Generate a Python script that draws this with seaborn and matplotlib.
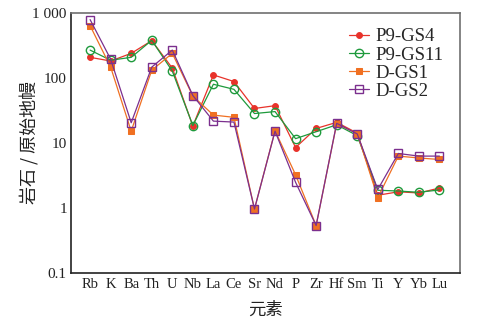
import matplotlib
matplotlib.use("Agg")
import matplotlib.pyplot as plt
import seaborn as sns
import pandas as pd
import numpy as np

elements = ["Rb", "K", "Ba", "Th", "U", "Nb", "La", "Ce", "Sr", "Nd", "P", "Zr", "Hf", "Sm", "Ti", "Y", "Yb", "Lu"]
p9_gs4 = [205, 180, 236, 370, 140, 18.0, 110, 87, 33.5, 37, 8.4, 16.5, 20.5, 14.0, 1.55, 1.75, 1.68, 2.0]
p9_gs11 = [265, 185, 205, 375, 126, 18.3, 79, 66, 28, 30, 11.5, 14.7, 18.8, 12.8, 1.85, 1.80, 1.72, 1.87]
d_gs1 = [630, 145, 15, 130, 236, 52, 26.5, 24.5, 0.95, 15.2, 3.2, 0.53, 19.5, 13.8, 1.42, 6.2, 5.8, 5.5]
d_gs2 = [780, 192, 20.2, 145, 265, 53, 21.4, 20.7, 0.95, 15.0, 2.45, 0.53, 19.8, 13.6, 1.9, 6.8, 6.2, 6.2]
series_names = ["P9-GS4", "P9-GS11", "D-GS1", "D-GS2"]
ytick_vals = [0.1, 1, 10, 100, 1000]
ytick_labels = ["0.1", "1", "10", "100", "1 000"]

sns.set_style("white")
plt.rcParams["font.family"] = ["Liberation Serif", "Noto Sans CJK SC", "DejaVu Sans"]

fig = plt.figure(figsize=(4.93, 3.23), dpi=100)
ax = fig.add_axes([0.144, 0.156, 0.789, 0.805])

styles = [
    dict(color="#e8322a", marker="o", markersize=4.2, markerfacecolor="#e8322a", markeredgecolor="#e8322a"),
    dict(color="#1e9a3c", marker="o", markersize=6.0, markerfacecolor="none", markeredgecolor="#1e9a3c", markeredgewidth=1.0),
    dict(color="#f07022", marker="s", markersize=4.5, markerfacecolor="#f07022", markeredgecolor="#f07022"),
    dict(color="#7b2f8e", marker="s", markersize=5.2, markerfacecolor="none", markeredgecolor="#7b2f8e", markeredgewidth=1.0),
]
data = [p9_gs4, p9_gs11, d_gs1, d_gs2]
xs = np.arange(len(elements))
for name, vals, st in zip(series_names, data, styles):
    df = pd.DataFrame({"x": xs, "y": vals})
    sns.lineplot(data=df, x="x", y="y", ax=ax, label=name, linewidth=0.9, sort=False, **st)

ax.set_yscale("log")
ax.set_ylim(0.1, 1000)
ax.set_xlim(-0.93, 18.0)
ax.set_yticks(ytick_vals)
ax.set_yticklabels(ytick_labels)
ax.yaxis.set_minor_locator(matplotlib.ticker.NullLocator())
ax.set_xticks(xs)
ax.set_xticklabels(elements)
ax.tick_params(axis="both", direction="in", length=5, width=1.0, colors="#222222", labelsize=10.5, labelcolor="#222222")
ax.tick_params(axis="x", pad=4)
ax.tick_params(axis="y", pad=3, labelsize=11)

for s in ["left", "bottom"]:
    ax.spines[s].set_color("#222222")
    ax.spines[s].set_linewidth(1.2)
for s in ["top", "right"]:
    ax.spines[s].set_color("#707070")
    ax.spines[s].set_linewidth(1.2)

ax.set_xlabel("元素", family=["Noto Sans CJK SC"], fontsize=12.5, color="#222222", labelpad=7)
ax.set_ylabel("岩石 / 原始地幔", family=["Noto Sans CJK SC"], fontsize=13, color="#222222", labelpad=-5)

leg = ax.legend(loc="upper right", frameon=False, fontsize=13.5, handlelength=1.1, handletextpad=0.3,
                labelspacing=0.05, borderaxespad=0.3, bbox_to_anchor=(0.99, 0.99))

fig.savefig("out.png", dpi=100)
